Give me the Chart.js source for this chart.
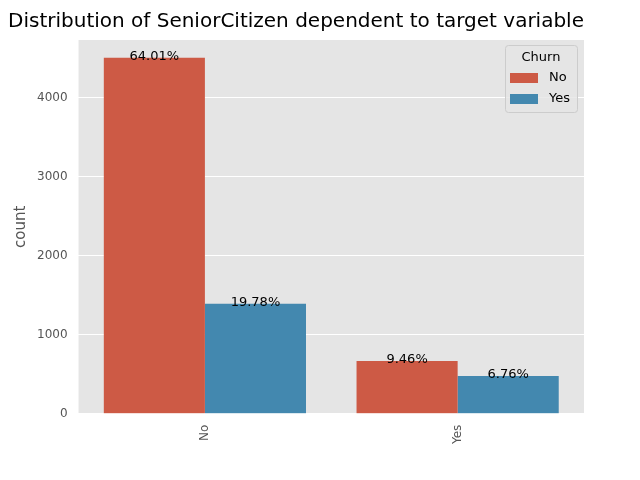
<!DOCTYPE html>
<html>
<head>
<meta charset="utf-8">
<script src="https://cdn.jsdelivr.net/npm/chart.js@4"></script>
<style>
  body { margin: 0; background: #fff; }
  #wrap { width: 640px; height: 480px; }
</style>
</head>
<body>
<div id="wrap"><canvas id="chart" width="640" height="480"></canvas></div>
<script>
// Datos del gráfico
const categories = ['No', 'Yes'];
const churnLabels = ['No', 'Yes'];
const churnNo = [4508, 666];
const churnYes = [1393, 476];
const colors = ['#CD5A45', '#4388AF'];
const yTicks = [0, 1000, 2000, 3000, 4000];
const total = churnNo.concat(churnYes).reduce((a, b) => a + b, 0);

// Etiquetas de porcentaje sobre cada barra
const percentLabels = {
    id: 'percentLabels',
    afterDatasetsDraw(chart) {
        const ctx = chart.ctx;
        ctx.save();
        ctx.font = '13px "DejaVu Sans"';
        ctx.fillStyle = '#000';
        ctx.textAlign = 'center';
        ctx.textBaseline = 'bottom';
        chart.data.datasets.forEach((ds, i) => {
            chart.getDatasetMeta(i).data.forEach((bar, j) => {
                const pct = (ds.data[j] / total * 100).toFixed(2) + '%';
                ctx.fillText(pct, bar.x, bar.y + 5);
            });
        });
        ctx.restore();
    }
};

// Leyenda dentro del área del gráfico
const innerLegend = {
    id: 'innerLegend',
    afterDraw(chart) {
        const ctx = chart.ctx;
        const area = chart.chartArea;
        const w = 72, h = 67;
        const x = area.right - w - 7, y = area.top + 5;
        ctx.save();
        ctx.fillStyle = 'rgba(229,229,229,0.8)';
        ctx.strokeStyle = '#cccccc';
        ctx.lineWidth = 1;
        ctx.beginPath();
        ctx.roundRect(x + 0.5, y + 0.5, w, h, 3);
        ctx.fill();
        ctx.stroke();
        ctx.font = '13px "DejaVu Sans"';
        ctx.fillStyle = '#000';
        ctx.textAlign = 'center';
        ctx.textBaseline = 'middle';
        ctx.fillText('Churn', x + w / 2, y + 13);
        ctx.textAlign = 'left';
        chart.data.datasets.forEach((ds, i) => {
            const ly = y + 33 + i * 21;
            ctx.fillStyle = ds.backgroundColor;
            ctx.fillRect(x + 5, ly - 5, 28, 10);
            ctx.fillStyle = '#000';
            ctx.fillText(ds.label, x + 44, ly);
        });
        ctx.restore();
    }
};

new Chart(document.getElementById('chart'), {
    type: 'bar',
    data: {
        labels: categories,
        datasets: [
            { label: churnLabels[0], data: churnNo, backgroundColor: colors[0] },
            { label: churnLabels[1], data: churnYes, backgroundColor: colors[1] }
        ]
    },
    options: {
        responsive: false,
        animation: false,
        layout: { padding: { left: 8, right: 56, top: 0, bottom: 33 } },
        datasets: { bar: { categoryPercentage: 0.8, barPercentage: 1.0 } },
        plugins: {
            legend: { display: false },
            tooltip: { enabled: false },
            title: {
                display: true,
                text: 'Distribution of SeniorCitizen dependent to target variable',
                color: '#000',
                font: { family: 'DejaVu Sans', size: 20, weight: 'normal' },
                padding: { top: 10, bottom: 6 }
            }
        },
        scales: {
            x: {
                grid: { display: false },
                border: { display: false },
                ticks: {
                    color: '#555',
                    font: { family: 'DejaVu Sans', size: 12 },
                    maxRotation: 90, minRotation: 90
                }
            },
            y: {
                min: 0, max: 4733,
                afterBuildTicks(axis) { axis.ticks = yTicks.map(v => ({ value: v })); },
                grid: { color: '#ffffff', lineWidth: 1 },
                border: { display: false },
                ticks: {
                    color: '#555', font: { family: 'DejaVu Sans', size: 12 },
                    callback: v => String(v)
                },
                title: {
                    display: true, text: 'count', color: '#555',
                    font: { family: 'DejaVu Sans', size: 15 }
                }
            }
        }
    },
    plugins: [{
        id: 'bg',
        beforeDraw(chart) {
            const a = chart.chartArea;
            chart.ctx.fillStyle = '#E5E5E5';
            chart.ctx.fillRect(a.left, a.top, a.right - a.left, a.bottom - a.top);
        }
    }, percentLabels, innerLegend]
});
</script>
</body>
</html>
